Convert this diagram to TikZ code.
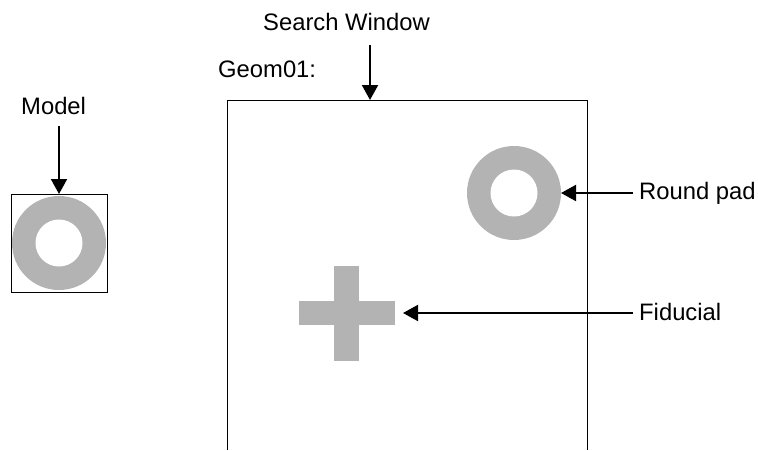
\documentclass[tikz,border=0pt]{standalone}
\usepackage{fontspec}
\setmainfont{Liberation Sans}
\usetikzlibrary{arrows.meta}
\definecolor{padgray}{RGB}{179,179,179}
\tikzset{
  lbl/.style={inner sep=0pt, font=\fontsize{23.8}{28}\selectfont},
  arr/.style={line width=2pt, -{Triangle[length=15pt,width=16pt]}},
  frame/.style={draw=black, line width=1pt},
  ringout/.style={circle, fill=padgray, inner sep=0pt, minimum size=94pt, outer sep=0pt},
  ringin/.style={circle, fill=white, inner sep=0pt, minimum size=47pt, outer sep=0pt},
  bar/.style={fill=padgray, inner sep=0pt, outer sep=0pt}
}
\begin{document}
\begin{tikzpicture}[x=1pt,y=-1pt]
\useasboundingbox (0,0) rectangle (758,450);
% Model
\node[lbl, anchor=base west] (model) at (21,114) {Model};
\node[frame, inner sep=0pt, minimum width=96pt, minimum height=98pt, outer sep=0pt] (mbox) at (59,243) {};
\node[ringout] (mring) at (59,243) {};
\node[ringin] (mhole) at (mring) {};
\draw[arr, shorten <=12pt] (mbox.north |- model.south) -- (mbox.north);
% Search window
\node[lbl, anchor=base west] (search) at (263,30) {Search Window};
\node[lbl, anchor=base west] (geom) at (218,77) {Geom01:};
\coordinate (swbl) at (227,450);
\coordinate (swtl) at (227,100);
\coordinate (swtr) at (587,100);
\coordinate (swbr) at (587,450);
\coordinate (swtop) at (370,100);
\draw[frame] (swbl) -- (swtl) -- (swtr) -- (swbr);
\draw[arr, shorten <=15pt] (swtop |- search.base) -- (swtop);
% Round pad
\node[ringout] (pad) at (514,193) {};
\node[ringin] (padhole) at (pad) {};
\node[lbl, anchor=base west] (padlbl) at (639,199) {Round pad};
\draw[arr, shorten <=6pt] (pad.east -| padlbl.west) -- (pad.east);
% Fiducial
\node[bar, minimum width=96pt, minimum height=24pt] (fidh) at (347,313) {};
\node[bar, minimum width=25pt, minimum height=95pt] (fidv) at (346.5,313.5) {};
\node[lbl, anchor=base west] (fidlbl) at (639,320) {Fiducial};
\draw[arr, shorten <=6pt, shorten >=8pt] (fidh.east -| fidlbl.west) -- (fidh.east);
\end{tikzpicture}
\end{document}
